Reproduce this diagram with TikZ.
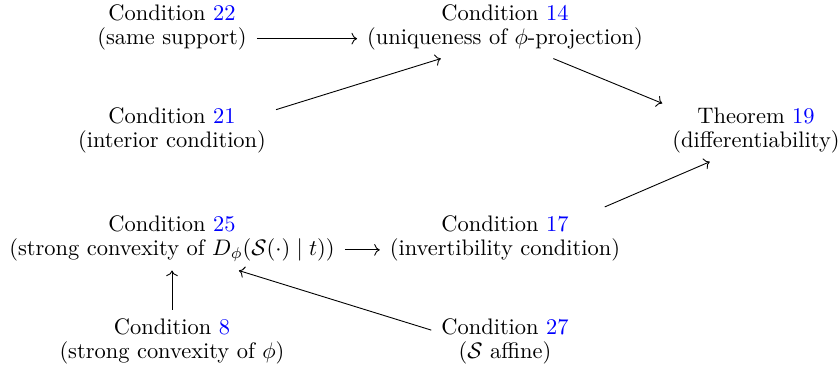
\documentclass[tikz,border=0pt]{standalone}
\usetikzlibrary{cd}
\newcommand\refnum[1]{\textcolor{blue}{#1}}
\begin{document}
\begin{tikzpicture}[x=0.44543pt,y=-0.44543pt,
  cell/.style={shape=asymmetrical rectangle, anchor=base, inner xsep=1ex, inner ysep=0.85ex},
  arr/.style={-{cm to}, line width=0.4pt}]
\useasboundingbox (0,0) rectangle (840,372);
\node[cell] (c22) at (172,44.3) {\shortstack{Condition \refnum{22}\\(same support)}};
\node[cell] (c14) at (505,44.3) {\shortstack{Condition \refnum{14}\\(uniqueness of $\phi$-projection)}};
\node[cell] (c21) at (172,147.5) {\shortstack{Condition \refnum{21}\\(interior condition)}};
\node[cell] (t19) at (756,147.5) {\shortstack{Theorem \refnum{19}\\(differentiability)}};
\node[cell] (c25) at (172,255.5) {\shortstack{Condition \refnum{25}\\(strong convexity of $D_\phi(\mathcal{S}(\cdot) \mid t)$)}};
\node[cell] (c17) at (505,255.5) {\shortstack{Condition \refnum{17}\\(invertibility condition)}};
\node[cell] (c8) at (172,358.5) {\shortstack{Condition \refnum{8}\\(strong convexity of $\phi$)}};
\node[cell] (c27) at (505,358.5) {\shortstack{Condition \refnum{27}\\($\mathcal{S}$ affine)}};
\draw[arr] (c22) -- (c14);
\draw[arr] (c21) -- (c14);
\draw[arr] (c14) -- (t19);
\draw[arr] (c17) -- (t19);
\draw[arr] (c25) -- (c17);
\draw[arr] (c8) -- (c25);
\draw[arr] (c27) -- (c25);
\end{tikzpicture}
\end{document}
